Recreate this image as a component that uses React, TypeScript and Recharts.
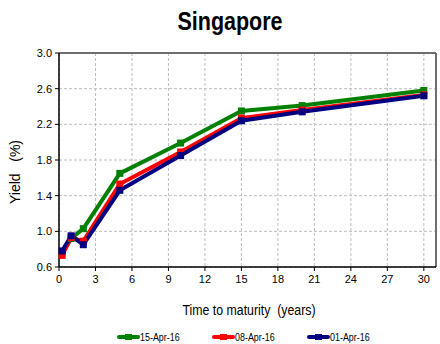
import { LineChart, Line, XAxis, YAxis, CartesianGrid, ReferenceLine } from 'recharts';

const MATURITY = [0.25, 1, 2, 5, 10, 15, 20, 30];
const APR_15 = [0.75, 0.92, 1.03, 1.65, 1.99, 2.35, 2.41, 2.58];
const APR_08 = [0.73, 0.93, 0.89, 1.53, 1.89, 2.27, 2.36, 2.53];
const APR_01 = [0.78, 0.95, 0.85, 1.46, 1.85, 2.24, 2.34, 2.52];

const X_TICKS = [0, 3, 6, 9, 12, 15, 18, 21, 24, 27, 30];
const Y_TICKS = [0.6, 1.0, 1.4, 1.8, 2.2, 2.6, 3.0];

const SERIES = [
  { key: 'a15', name: '15-Apr-16', color: '#008000' },
  { key: 'a08', name: '08-Apr-16', color: '#ff0000' },
  { key: 'a01', name: '01-Apr-16', color: '#000080' },
];

const FONT = '"Liberation Sans", Arial, sans-serif';

const data = MATURITY.map((m, i) => ({ m, a15: APR_15[i], a08: APR_08[i], a01: APR_01[i] }));

const squareDot = (color: string) => (props: any) => {
  const { cx, cy, index } = props;
  if (cx == null || cy == null) return <g key={index} />;
  return <rect key={index} x={cx - 3.5} y={cy - 3.5} width={7} height={7} fill={color} />;
};

const App = () => {
  return (
    <div style={{ position: 'absolute', left: 0, top: 0, width: 440, height: 344, background: '#fff', fontFamily: FONT }}>
      <div
        style={{
          position: 'absolute',
          left: 0,
          width: 460,
          top: 7,
          textAlign: 'center',
          fontSize: 25,
          fontWeight: 'bold',
          transform: 'scaleX(0.86)',
          transformOrigin: '230px 0',
        }}
      >
        Singapore
      </div>
      <LineChart width={440} height={344} data={data} margin={{ top: 53, right: 4, bottom: 57, left: 0 }}>
        <CartesianGrid stroke="#bdbdbd" strokeDasharray="3 2" />
        <XAxis
          type="number"
          dataKey="m"
          domain={[0, 31]}
          ticks={X_TICKS}
          interval={0}
          tick={{ fontSize: 11, fill: '#000', fontFamily: FONT }}
          tickSize={4}
          tickMargin={4}
          axisLine={{ stroke: '#000', strokeWidth: 1.5 }}
          tickLine={{ stroke: '#000' }}
          height={20}
        />
        <YAxis
          type="number"
          domain={[0.6, 3.0]}
          ticks={Y_TICKS}
          interval={0}
          tickFormatter={(v: number) => v.toFixed(1)}
          tick={{ fontSize: 11, fill: '#000', fontFamily: FONT }}
          tickSize={4}
          tickMargin={3}
          axisLine={{ stroke: '#000', strokeWidth: 1.5 }}
          tickLine={{ stroke: '#000' }}
          width={59}
        />
        <ReferenceLine y={3.0} stroke="#6e6e6e" strokeWidth={2} />
        <ReferenceLine x={31} stroke="#6e6e6e" strokeWidth={2} />
        {SERIES.map((s) => (
          <Line
            key={s.key}
            type="linear"
            dataKey={s.key}
            stroke={s.color}
            strokeWidth={4}
            dot={squareDot(s.color)}
            activeDot={false}
            isAnimationActive={false}
          />
        ))}
      </LineChart>
      <div
        style={{
          position: 'absolute',
          left: 249,
          top: 310,
          fontSize: 14,
          whiteSpace: 'nowrap',
          transform: 'translate(-50%, -50%) scaleX(0.88)',
        }}
      >
        Time to maturity&nbsp; (years)
      </div>
      <div
        style={{
          position: 'absolute',
          left: 15,
          top: 172,
          fontSize: 14,
          whiteSpace: 'nowrap',
          transform: 'translate(-50%, -50%) rotate(-90deg)',
        }}
      >
        Yield&nbsp;&nbsp; (%)
      </div>
      {SERIES.map((s, i) => (
        <div
          key={s.key}
          style={{ position: 'absolute', left: 117 + i * 95, top: 330, height: 14, display: 'flex', alignItems: 'center', fontSize: 10.5 }}
        >
          <svg width={23} height={8} style={{ display: 'block' }}>
            <line x1={2} y1={4} x2={21} y2={4} stroke={s.color} strokeWidth={4} strokeLinecap="round" />
            <rect x={8} y={1} width={7} height={6} fill={s.color} />
          </svg>
          <span style={{ display: 'inline-block', transform: 'scaleX(0.85)', transformOrigin: '0 50%' }}>{s.name}</span>
        </div>
      ))}
    </div>
  );
};

export default App;
